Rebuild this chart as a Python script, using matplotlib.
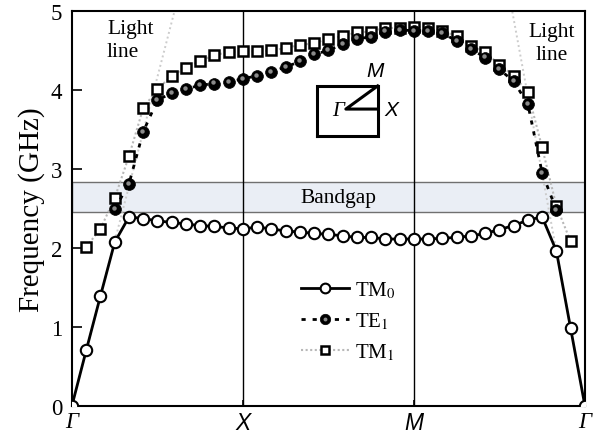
import numpy as np
import matplotlib
matplotlib.use("Agg")
import matplotlib.pyplot as plt
import matplotlib.transforms as mtransforms
from matplotlib.lines import Line2D
from matplotlib.legend_handler import HandlerTuple

plt.rcParams['font.family'] = ['Liberation Serif', 'DejaVu Serif']
plt.rcParams['mathtext.fontset'] = 'stix'

# 12 wave-vector steps per segment: Gamma-X, X-M, M-Gamma
kx = np.arange(37) / 12.0
nan = np.nan

tm0 = [0.00, 0.70, 1.39, 2.07, 2.39, 2.37, 2.34, 2.32, 2.30, 2.28, 2.27, 2.25, 2.24,
       2.26, 2.24, 2.21, 2.20, 2.18, 2.17, 2.15, 2.13, 2.13, 2.11, 2.11, 2.11,
       2.11, 2.12, 2.13, 2.15, 2.18, 2.23, 2.28, 2.35, 2.39, 1.96, 0.98, 0.00]

te1 = [nan, nan, nan, 2.49, 2.81, 3.47, 3.87, 3.96, 4.01, 4.06, 4.08, 4.10, 4.14,
       4.18, 4.23, 4.29, 4.36, 4.45, 4.50, 4.58, 4.65, 4.67, 4.74, 4.76, 4.75,
       4.75, 4.72, 4.62, 4.52, 4.41, 4.26, 4.11, 3.82, 2.95, 2.48, nan, nan]

tm1 = [nan, 2.01, 2.24, 2.63, 3.16, 3.77, 4.01, 4.18, 4.28, 4.37, 4.44, 4.48, 4.49,
       4.49, 4.50, 4.53, 4.57, 4.59, 4.65, 4.68, 4.73, 4.74, 4.79, 4.78, 4.80,
       4.79, 4.75, 4.68, 4.56, 4.48, 4.32, 4.18, 3.97, 3.27, 2.53, 2.08, nan]

# light lines near Gamma
light_left_x, light_left_y = [0.0, 0.60], [0.0, 5.0]
light_right_x, light_right_y = [3.0, 2.575], [0.0, 5.0]

gap_lo, gap_hi = 2.45, 2.83

sym_pos = [0, 1, 2, 3]
sym_lab = ['Γ', 'X', 'M', 'Γ']

fig = plt.figure(figsize=(6.07, 4.39), dpi=100)
ax = fig.add_axes([0.1186, 0.074, 0.8449, 0.8987])

ax.axhspan(gap_lo, gap_hi, facecolor='#eaeef5', edgecolor='#707070', lw=1.0, zorder=0)
ax.axvline(1, color='k', lw=1.0, zorder=1)
ax.axvline(2, color='k', lw=1.0, zorder=1)

ax.plot(light_left_x, light_left_y, color='#cccccc', lw=1.4, ls=(0, (1, 1.5)), zorder=1)
ax.plot(light_right_x, light_right_y, color='#cccccc', lw=1.4, ls=(0, (1, 1.5)), zorder=1)

ax.plot(kx, tm1, color='#b8b8b8', lw=1.5, ls=(0, (1, 1.2)),
        marker='s', ms=6.8, mfc='white', mec='k', mew=1.8, zorder=3)
ax.plot(kx, te1, color='k', lw=2.0, ls=(0, (1.5, 2.5)),
        marker='o', ms=8.5, mfc='k', mec='k', mew=0.5, zorder=4)
# highlight on the spheres
hl = mtransforms.offset_copy(ax.transData, fig=fig, x=-0.8, y=0.8, units='points')
ax.plot(kx, te1, ls='none', marker='o', ms=3.2, mfc='#8a8a8a', mec='none',
        transform=hl, zorder=5)
ax.plot(kx, tm0, color='k', lw=2.0,
        marker='o', ms=8.2, mfc='white', mec='k', mew=1.5, zorder=6)

ax.set_xlim(0, 3)
ax.set_ylim(0, 5)
ax.set_yticks(range(6))
ax.set_xticks(sym_pos)
ax.set_xticklabels(sym_lab)
for lab, fam in zip(ax.get_xticklabels(), ['Liberation Serif', 'Liberation Sans',
                                           'Liberation Sans', 'Liberation Serif']):
    lab.set_family(fam)
    lab.set_style('italic')
ax.tick_params(direction='in', length=7, width=1.2, labelsize=16.5)
ax.tick_params(axis='y', pad=7)
ax.tick_params(axis='x', pad=4, length=4)
for s in ax.spines.values():
    s.set_linewidth(1.5)

ax.set_ylabel('Frequency (GHz)', fontsize=21, labelpad=4)

ax.text(1.56, (gap_lo + gap_hi) / 2, 'Bandgap', fontsize=15.5, ha='center', va='center')
ax.text(0.205, 4.90, 'Light\nline', fontsize=15.5, ha='left', va='top', linespacing=1.3)
ax.text(2.806, 4.86, 'Light\nline', fontsize=15.5, ha='center', va='top',
        multialignment='center', linespacing=1.3)

# Brillouin zone sketch
bz_x = [1.431, 1.788, 1.788, 1.431, 1.431]
bz_y = [3.42, 3.42, 4.05, 4.05, 3.42]
ax.plot(bz_x, bz_y, color='k', lw=2.2, solid_joinstyle='miter', zorder=2)
ax.plot([1.788, 1.602, 1.788], [4.05, 3.757, 3.757], color='k', lw=2.2, zorder=2)
ax.text(1.772, 4.13, 'M', fontsize=15, family='Liberation Sans', style='italic',
        ha='center', va='bottom')
ax.text(1.825, 3.757, 'X', fontsize=15, family='Liberation Sans', style='italic',
        ha='left', va='center')
ax.text(1.592, 3.74, 'Γ', fontsize=15, style='italic', ha='right', va='center')

# legend proxies
h_tm0 = Line2D([], [], color='k', lw=2.0, marker='o', ms=7, mfc='white', mec='k', mew=1.5)
h_te1 = Line2D([], [], color='k', lw=2.0, ls=(0, (1.5, 2.5)), marker='o', ms=7.5,
               mfc='k', mec='k', mew=0.5)
h_hl = Line2D([], [], ls='none', marker='o', ms=2.8, mfc='#8a8a8a', mec='none')
h_tm1 = Line2D([], [], color='#b8b8b8', lw=1.5, ls=(0, (1, 1.2)), marker='s', ms=5.8,
               mfc='white', mec='k', mew=1.8)

ax.legend([h_tm0, (h_te1, h_hl), h_tm1], ['TM$_0$', 'TE$_1$', 'TM$_1$'],
          handler_map={tuple: HandlerTuple(ndivide=1, pad=0)},
          loc='center left', bbox_to_anchor=(0.41, 0.215), frameon=False,
          fontsize=15, handlelength=2.3, handletextpad=0.3, labelspacing=0.5,
          numpoints=1)

fig.savefig('out.png', dpi=100)
